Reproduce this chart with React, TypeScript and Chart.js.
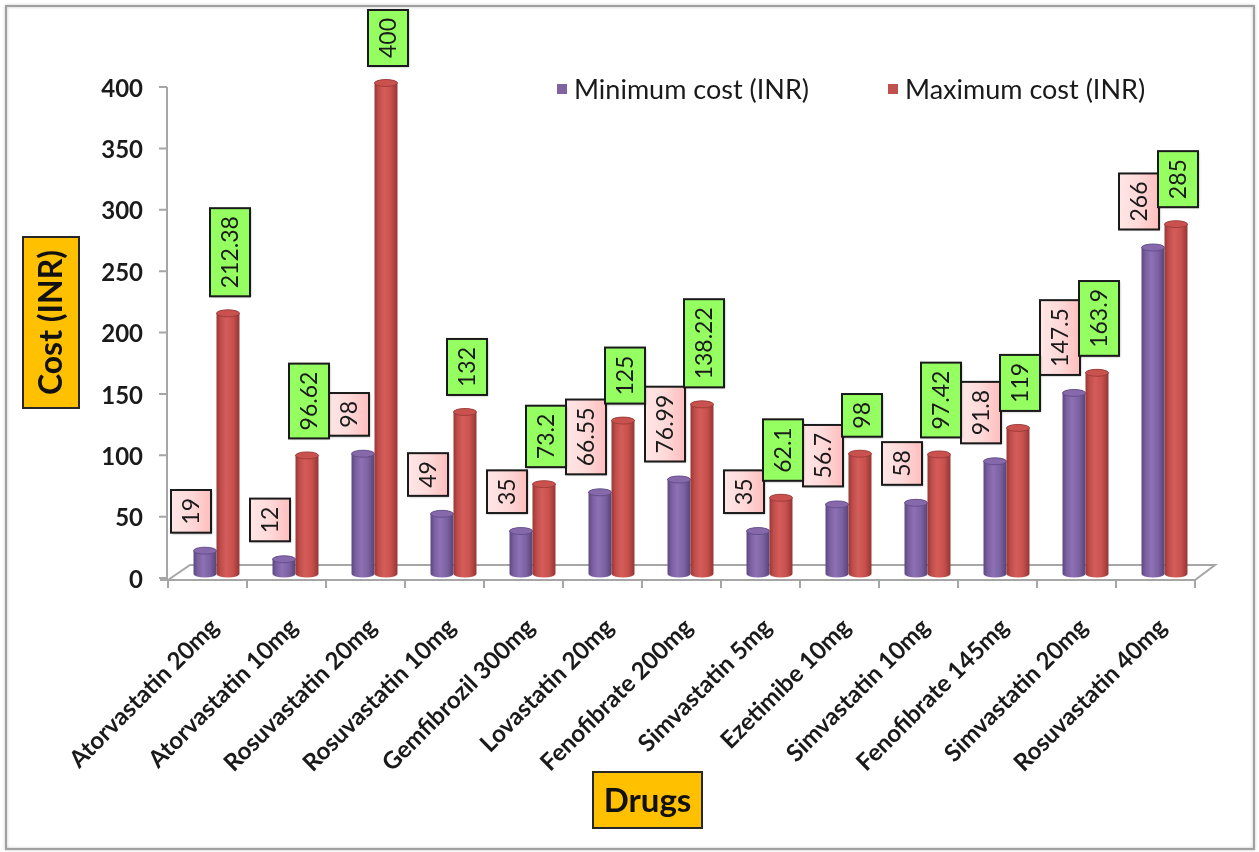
import { useEffect, useRef } from "react";
import { Chart, registerables } from "chart.js";

Chart.register(...registerables);

// Drug products and their retail price range
const drugs = [
  "Atorvastatin 20mg",
  "Atorvastatin 10mg",
  "Rosuvastatin 20mg",
  "Rosuvastatin 10mg",
  "Gemfibrozil 300mg",
  "Lovastatin 20mg",
  "Fenofibrate 200mg",
  "Simvastatin 5mg",
  "Ezetimibe 10mg",
  "Simvastatin 10mg",
  "Fenofibrate 145mg",
  "Simvastatin 20mg",
  "Rosuvastatin 40mg",
];
const minCost = [19, 12, 98, 49, 35, 66.55, 76.99, 35, 56.7, 58, 91.8, 147.5, 266];
const maxCost = [212.38, 96.62, 400, 132, 73.2, 125, 138.22, 62.1, 98, 97.42, 119, 163.9, 285];
const yTicks = [0, 50, 100, 150, 200, 250, 300, 350, 400];
const seriesNames = ["Minimum cost (INR)", "Maximum cost (INR)"];
const yTitle = "Cost (INR)";
const xTitle = "Drugs";

const FONT = "Lato, 'Open Sans', sans-serif";
const PURPLE = "#8064A2";
const RED = "#C0504D";

const purpleStops: [number, string][] = [
  [0, "#5c4880"],
  [0.18, "#7a5fa1"],
  [0.42, "#8d71b4"],
  [0.72, "#7c62a2"],
  [1, "#56437a"],
];
const redStops: [number, string][] = [
  [0, "#983836"],
  [0.18, "#c04d4a"],
  [0.42, "#d45d5a"],
  [0.72, "#c8504d"],
  [1, "#943634"],
];

function drawCylinder(
  ctx: CanvasRenderingContext2D,
  cx: number,
  top: number,
  base: number,
  w: number,
  stops: [number, string][],
  capFill: string,
  capStroke: string
) {
  const l = cx - w / 2;
  const r = cx + w / 2;
  const ry = 3.5;
  const g = ctx.createLinearGradient(l, 0, r, 0);
  stops.forEach(([o, c]) => g.addColorStop(o, c));
  ctx.save();
  ctx.beginPath();
  ctx.moveTo(l, top);
  ctx.lineTo(l, base);
  ctx.ellipse(cx, base, w / 2, ry, 0, Math.PI, 0, true);
  ctx.lineTo(r, top);
  ctx.ellipse(cx, top, w / 2, ry, 0, 0, Math.PI, true);
  ctx.closePath();
  ctx.fillStyle = g;
  ctx.fill();
  ctx.beginPath();
  ctx.ellipse(cx, top, w / 2, ry, 0, 0, Math.PI * 2);
  ctx.fillStyle = capFill;
  ctx.fill();
  ctx.lineWidth = 0.8;
  ctx.strokeStyle = capStroke;
  ctx.stroke();
  ctx.restore();
}

function drawValueBox(
  ctx: CanvasRenderingContext2D,
  text: string,
  cx: number,
  bottom: number,
  kind: "min" | "max"
) {
  ctx.save();
  ctx.font = `23px ${FONT}`;
  const len = ctx.measureText(text).width + 16;
  const th = 40;
  const cy = bottom - len / 2;
  ctx.translate(cx, cy);
  ctx.rotate(-Math.PI / 2);
  let fill: string | CanvasGradient;
  if (kind === "min") {
    const g = ctx.createLinearGradient(0, -th / 2, 0, th / 2);
    g.addColorStop(0, "#ffe6e6");
    g.addColorStop(0.5, "#ffd9d9");
    g.addColorStop(1, "#ffbdbd");
    fill = g;
  } else {
    fill = "#95ff62";
  }
  ctx.shadowColor = "rgba(0,0,0,0.35)";
  ctx.shadowBlur = 2;
  ctx.shadowOffsetX = 1;
  ctx.shadowOffsetY = 1;
  ctx.fillStyle = fill;
  ctx.fillRect(-len / 2, -th / 2, len, th);
  ctx.shadowColor = "transparent";
  ctx.lineWidth = 2;
  ctx.strokeStyle = "#1a1a1a";
  ctx.strokeRect(-len / 2, -th / 2, len, th);
  ctx.fillStyle = "#1a1a1a";
  ctx.textAlign = "center";
  ctx.textBaseline = "middle";
  ctx.fillText(text, 0, 1);
  ctx.restore();
}

const cylinderChart = {
  id: "cylinderChart",
  beforeDraw(chart: any) {
    const ctx: CanvasRenderingContext2D = chart.ctx;
    const xs = chart.scales.x;
    const ys = chart.scales.y;
    const W = chart.width;
    const H = chart.height;
    ctx.save();
    ctx.fillStyle = "#ffffff";
    ctx.fillRect(0, 0, W, H);

    // outer frame
    ctx.shadowColor = "rgba(0,0,0,0.25)";
    ctx.shadowBlur = 3;
    ctx.strokeStyle = "#a0a0a0";
    ctx.lineWidth = 2;
    ctx.strokeRect(6, 6, W - 11, H - 9);
    ctx.shadowColor = "transparent";

    const y0 = ys.getPixelForValue(0);
    const step = (xs.right - xs.left) / drugs.length;
    const frontY = y0 + 6;
    const backY = y0 - 9;
    const frontL = xs.left - 9;
    const frontR = xs.right - 9;

    // floor
    ctx.strokeStyle = "#a6a6a6";
    ctx.lineWidth = 2;
    ctx.beginPath();
    ctx.moveTo(frontL - 8, frontY);
    ctx.lineTo(frontR, frontY);
    ctx.lineTo(frontR + 20, backY);
    ctx.lineTo(frontL + 22, backY);
    ctx.lineTo(frontL, frontY);
    ctx.stroke();

    // category ticks
    ctx.beginPath();
    for (let i = 0; i <= drugs.length; i++) {
      const x = frontL + i * step;
      ctx.moveTo(x, frontY);
      ctx.lineTo(x, frontY + 8);
    }
    ctx.stroke();

    // value axis
    const axX = frontL - 1;
    ctx.beginPath();
    ctx.moveTo(axX, ys.getPixelForValue(yTicks[yTicks.length - 1]) + 4);
    ctx.lineTo(axX, frontY);
    yTicks.forEach((v) => {
      const y = ys.getPixelForValue(v) + 4;
      ctx.moveTo(axX - 8, y);
      ctx.lineTo(axX, y);
    });
    ctx.stroke();

    ctx.fillStyle = "#1a1a1a";
    ctx.font = `bold 24px ${FONT}`;
    ctx.textAlign = "right";
    ctx.textBaseline = "middle";
    yTicks.forEach((v) => {
      ctx.fillText(String(v), axX - 24, ys.getPixelForValue(v) + 6);
    });

    // category labels
    ctx.font = `bold 24px ${FONT}`;
    drugs.forEach((d, i) => {
      const x = xs.getPixelForValue(i) - 9;
      ctx.save();
      ctx.translate(x + 7, frontY + 43);
      ctx.rotate(-Math.PI / 4);
      ctx.textAlign = "right";
      ctx.textBaseline = "middle";
      ctx.fillText(d, 0, 0);
      ctx.restore();
    });

    // axis titles
    ctx.lineWidth = 2;
    ctx.strokeStyle = "#262626";
    ctx.fillStyle = "#FFC000";
    ctx.fillRect(23, 237, 56, 171);
    ctx.strokeRect(23, 237, 56, 171);
    ctx.save();
    ctx.translate(51, 322.5);
    ctx.rotate(-Math.PI / 2);
    ctx.fillStyle = "#111";
    ctx.font = `bold 32px ${FONT}`;
    ctx.textAlign = "center";
    ctx.textBaseline = "middle";
    ctx.fillText(yTitle, 0, 1);
    ctx.restore();

    ctx.fillStyle = "#FFC000";
    ctx.fillRect(593, 772, 109, 56);
    ctx.strokeRect(593, 772, 109, 56);
    ctx.fillStyle = "#111";
    ctx.font = `bold 33px ${FONT}`;
    ctx.textAlign = "center";
    ctx.textBaseline = "middle";
    ctx.fillText(xTitle, 647.5, 801);

    // legend
    ctx.font = `27px ${FONT}`;
    ctx.textAlign = "left";
    const legendX = [557, 888];
    const legendC = [PURPLE, RED];
    seriesNames.forEach((n, i) => {
      ctx.fillStyle = legendC[i];
      ctx.fillRect(legendX[i], 84, 10, 10);
      ctx.fillStyle = "#1a1a1a";
      ctx.fillText(n, legendX[i] + 17, 90);
    });
    ctx.restore();
  },
  afterDatasetsDraw(chart: any) {
    const ctx: CanvasRenderingContext2D = chart.ctx;
    const minMeta = chart.getDatasetMeta(0);
    const maxMeta = chart.getDatasetMeta(1);
    minMeta.data.forEach((el: any) => {
      const p = el.getProps(["x", "y", "base", "width"], true);
      drawCylinder(ctx, p.x, p.y, p.base, p.width, purpleStops, "#8569aa", "#5e4983");
    });
    maxMeta.data.forEach((el: any) => {
      const p = el.getProps(["x", "y", "base", "width"], true);
      drawCylinder(ctx, p.x, p.y, p.base, p.width, redStops, "#c9524f", "#953735");
    });
    minMeta.data.forEach((el: any, i: number) => {
      const p = el.getProps(["x", "y"], true);
      drawValueBox(ctx, String(minCost[i]), p.x - 14, p.y - 18, "min");
    });
    maxMeta.data.forEach((el: any, i: number) => {
      const p = el.getProps(["x", "y"], true);
      drawValueBox(ctx, String(maxCost[i]), p.x + 2, p.y - 17, "max");
    });
  },
};

export default function App() {
  const ref = useRef<HTMLCanvasElement | null>(null);

  useEffect(() => {
    if (!ref.current) return;
    const chart = new Chart(ref.current, {
      type: "bar",
      data: {
        labels: drugs,
        datasets: [
          {
            label: seriesNames[0],
            data: minCost,
            backgroundColor: "rgba(0,0,0,0)",
            borderWidth: 0,
          },
          {
            label: seriesNames[1],
            data: maxCost,
            backgroundColor: "rgba(0,0,0,0)",
            borderWidth: 0,
          },
        ],
      },
      options: {
        responsive: false,
        animation: false,
        devicePixelRatio: 1,
        layout: { padding: { left: 177, right: 55, top: 83, bottom: 278 } },
        datasets: { bar: { categoryPercentage: 0.582, barPercentage: 1 } },
        plugins: { legend: { display: false }, tooltip: { enabled: false } },
        scales: {
          x: { display: false, offset: true },
          y: { display: false, min: 0, max: 400 },
        },
      },
      plugins: [cylinderChart],
    });
    return () => chart.destroy();
  }, []);

  return (
    <div style={{ position: "fixed", left: 0, top: 0, width: 1259, height: 852, background: "#fff" }}>
      <canvas ref={ref} width={1259} height={852} style={{ width: 1259, height: 852, display: "block" }} />
    </div>
  );
}
